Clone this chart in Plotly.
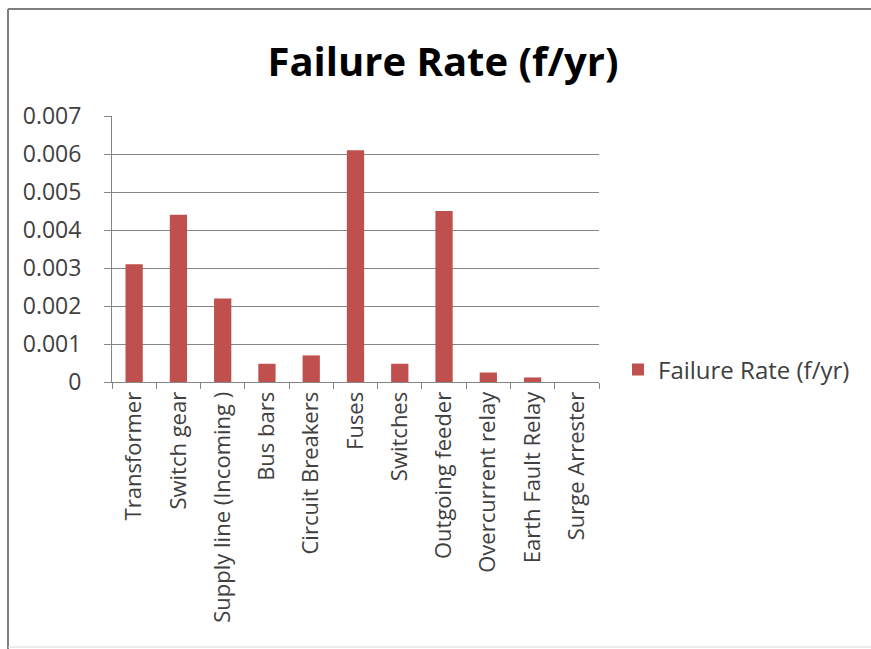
import plotly.graph_objects as go

categories = ["Transformer", "Switch gear", "Supply line (Incoming )", "Bus bars",
              "Circuit Breakers", "Fuses", "Switches", "Outgoing feeder",
              "Overcurrent relay", "Earth Fault Relay", "Surge Arrester"]
failure_rate = [0.0031, 0.0044, 0.0022, 0.00048, 0.0007, 0.0061, 0.00048,
                0.0045, 0.00025, 0.00012, 0.0]
y_ticks = [0, 0.001, 0.002, 0.003, 0.004, 0.005, 0.006, 0.007]
y_tick_text = ["0", "0.001", "0.002", "0.003", "0.004", "0.005", "0.006", "0.007"]

FONT = "Open Sans"
L, R, T, B = 112, 272, 116, 267
W, H = 871, 649
pw, ph = W - L - R, H - T - B

fig = go.Figure()
fig.add_trace(go.Bar(
    x=categories, y=failure_rate, name="Failure Rate (f/yr)",
    marker=dict(color="#C0504D", line=dict(width=0)),
    showlegend=True,
))

def px_x(p):
    return (p - L) / pw

def px_y(p):
    return (H - B - p) / ph

fig.update_layout(
    width=W, height=H,
    margin=dict(l=L, r=R, t=T, b=B),
    paper_bgcolor="white", plot_bgcolor="white",
    bargap=0.61,
    title=dict(text="<b>Failure Rate (f/yr)</b>", x=443 / W, xanchor="center",
               xref="container", y=1 - 62 / H, yanchor="middle",
               font=dict(family=FONT, size=40, color="#000000")),
    font=dict(family=FONT, color="#404040"),
    xaxis=dict(
        type="category", tickangle=-90, tickson="boundaries",
        ticks="outside", ticklen=6, tickcolor="#868686",
        showline=True, linecolor="#868686", linewidth=1,
        showgrid=False, tickfont=dict(family=FONT, size=22, color="#404040"),
        range=[-0.5, 10.5],
    ),
    yaxis=dict(
        range=[0, 0.007], tickvals=y_ticks, ticktext=y_tick_text,
        ticks="outside", ticklen=7, tickcolor="#868686",
        showline=True, linecolor="#868686", linewidth=1,
        showgrid=True, gridcolor="#868686", gridwidth=1,
        zeroline=False, ticklabelstandoff=18,
        tickfont=dict(family=FONT, size=23, color="#404040"),
    ),
    legend=dict(x=px_x(618), y=px_y(370), xanchor="left", yanchor="middle",
                font=dict(family=FONT, size=24, color="#404040"),
                bgcolor="rgba(0,0,0,0)", itemwidth=30),
    shapes=[
        dict(type="line", xref="paper", yref="paper",
             x0=px_x(8), x1=px_x(W + 5), y0=px_y(9), y1=px_y(9),
             line=dict(color="#7F7F7F", width=2)),
        dict(type="line", xref="paper", yref="paper",
             x0=px_x(8), x1=px_x(8), y0=px_y(9), y1=px_y(H + 5),
             line=dict(color="#7F7F7F", width=2)),
        dict(type="line", xref="paper", yref="paper",
             x0=px_x(8), x1=px_x(W + 5), y0=px_y(647), y1=px_y(647),
             line=dict(color="#D9D9D9", width=1)),
    ],
)

fig.write_html("out.html", config={"displayModeBar": False},
               post_script="document.body.style.margin='0';document.body.style.overflow='hidden';")
